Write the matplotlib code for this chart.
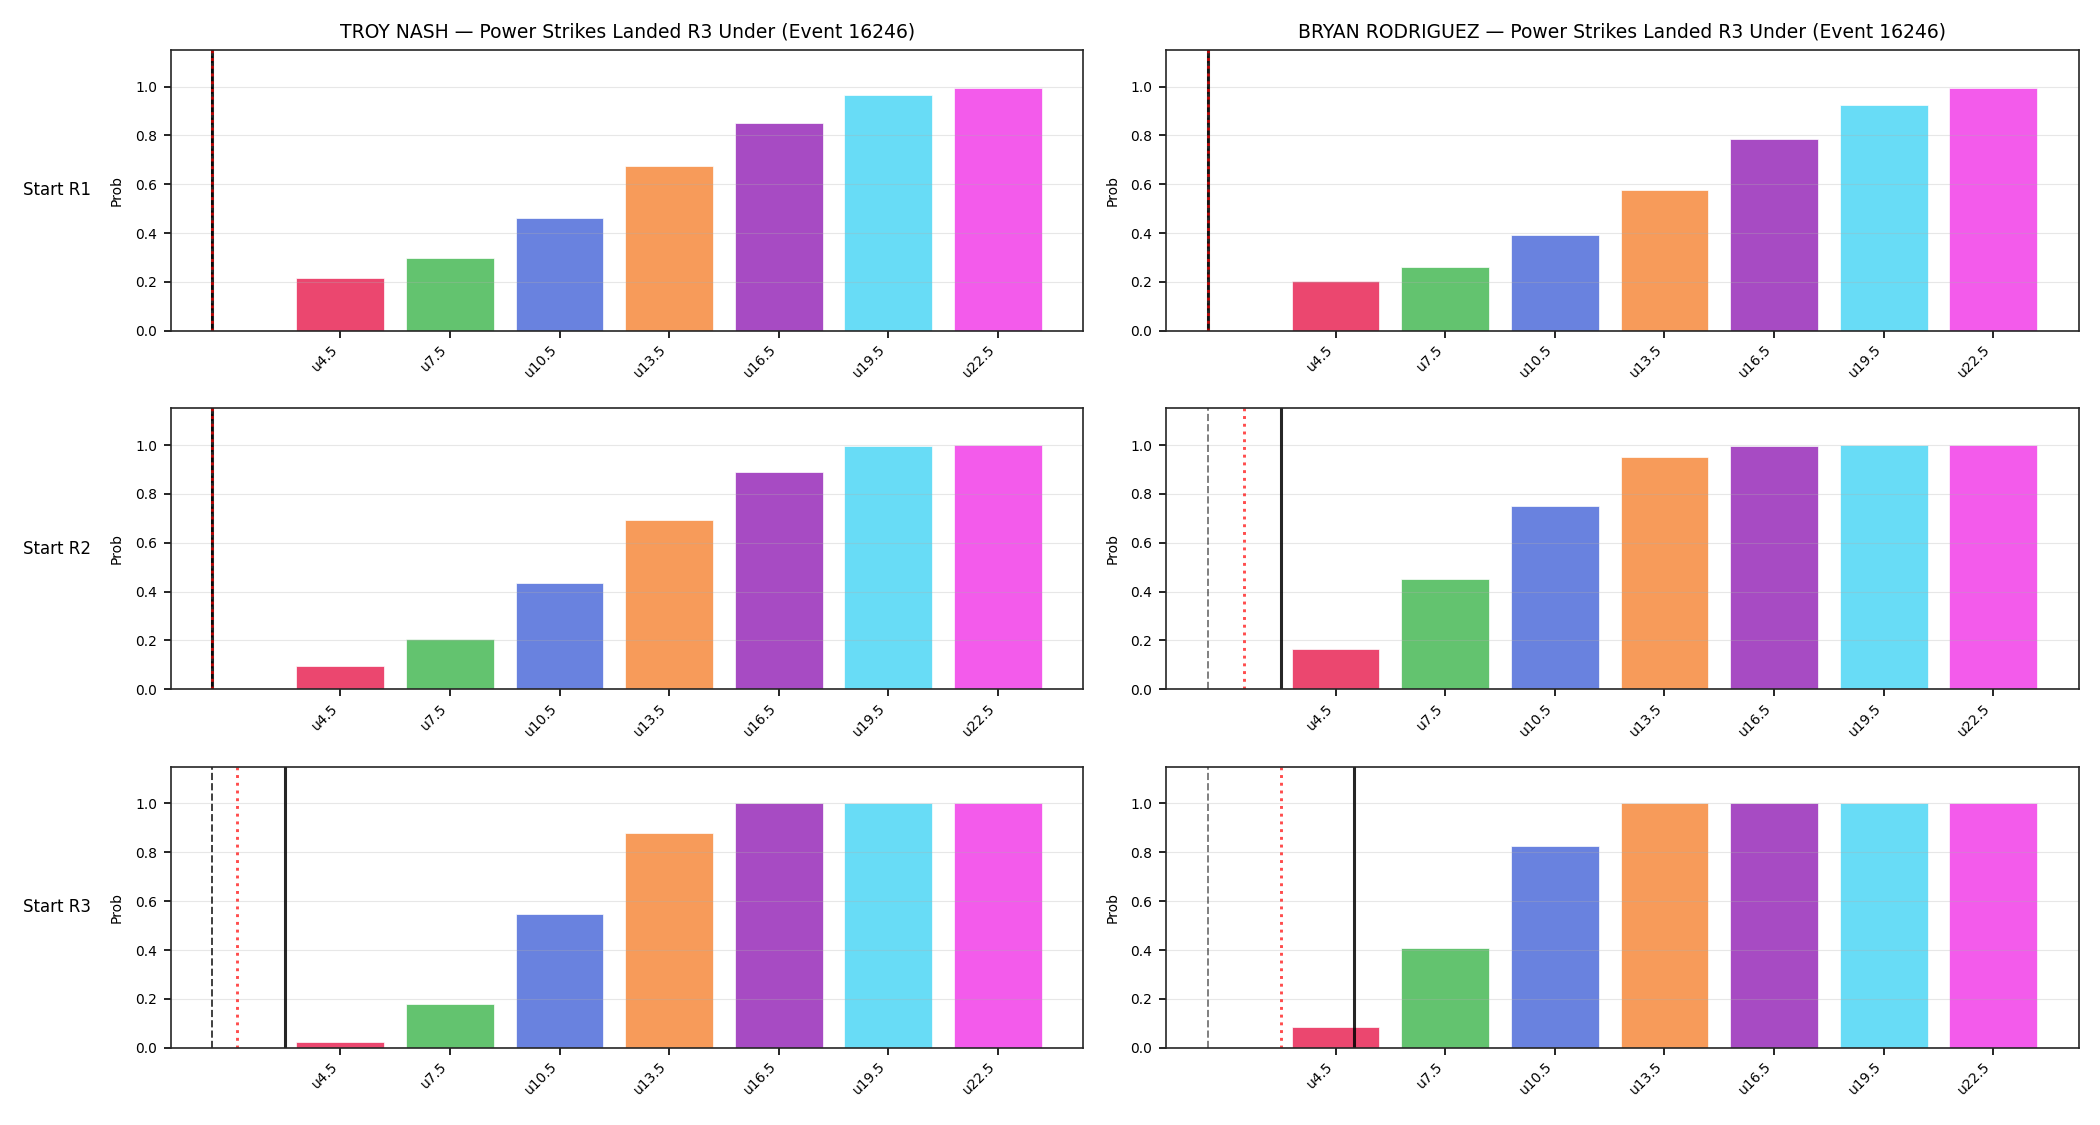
import numpy as np
import matplotlib
matplotlib.use("Agg")
import matplotlib.pyplot as plt

# lineas "under" y etiquetas
thresholds = [4.5, 7.5, 10.5, 13.5, 16.5, 19.5, 22.5]
tick_labels = ["u4.5", "u7.5", "u10.5", "u13.5", "u16.5", "u19.5", "u22.5"]
fighters = ["TROY NASH", "BRYAN RODRIGUEZ"]
row_labels = ["Start R1", "Start R2", "Start R3"]
event_id = 16246

# probabilidades por fila (R1, R2, R3)
troy_probs = [
    [0.217, 0.299, 0.463, 0.676, 0.850, 0.967, 0.996],
    [0.097, 0.204, 0.434, 0.692, 0.890, 0.997, 1.000],
    [0.023, 0.178, 0.546, 0.879, 1.000, 1.000, 1.000],
]
bryan_probs = [
    [0.205, 0.260, 0.393, 0.575, 0.785, 0.923, 0.996],
    [0.163, 0.450, 0.750, 0.953, 0.998, 1.000, 1.000],
    [0.085, 0.410, 0.827, 1.000, 1.000, 1.000, 1.000],
]

# lineas verticales: minimo (discontinua), media (punteada), actual (solida)
troy_min = [1.0, 1.0, 1.0]
troy_mean = [1.0, 1.0, 1.66]
troy_now = [1.0, 1.0, 3.0]
bryan_min = [1.0, 1.0, 1.0]
bryan_mean = [1.0, 2.0, 3.0]
bryan_now = [1.0, 3.0, 5.0]

bar_colors = ["#e6194b", "#3cb44b", "#4363d8", "#f58231",
              "#911eb4", "#42d4f4", "#f032e6"]

probs = [troy_probs, bryan_probs]
mins = [troy_min, bryan_min]
means = [troy_mean, bryan_mean]
nows = [troy_now, bryan_now]
dash_alpha = [0.75, 0.5]

plt.rcParams["axes.edgecolor"] = "#262626"
plt.rcParams["axes.linewidth"] = 1.2
plt.rcParams["xtick.major.width"] = 1.2
plt.rcParams["ytick.major.width"] = 1.2
plt.rcParams["xtick.major.size"] = 5
plt.rcParams["ytick.major.size"] = 5
plt.rcParams["ytick.major.pad"] = 5

fig, axes = plt.subplots(3, 2, figsize=(21, 11.25), dpi=100)
fig.subplots_adjust(left=0.0814, right=0.9898, top=0.9556, bottom=0.0687,
                    wspace=0.091, hspace=0.276)

for c in range(2):
    for r in range(3):
        ax = axes[r, c]
        ax.bar(thresholds, probs[c][r], width=2.4, color=bar_colors,
               alpha=0.8, edgecolor="white", linewidth=0.6)
        ax.axvline(nows[c][r], color="k", alpha=0.85, linewidth=2.2)
        ax.axvline(mins[c][r], color="k", alpha=dash_alpha[c],
                   linestyle="--", linewidth=1.4)
        ax.axvline(means[c][r], color="red", alpha=0.7,
                   linestyle=":", linewidth=2.1)
        ax.set_ylim(0, 1.15)
        ax.set_yticks([0, 0.2, 0.4, 0.6, 0.8, 1.0])
        ax.set_xticks(thresholds)
        ax.set_xticklabels(tick_labels, rotation=45, ha="right")
        ax.set_ylabel("Prob", labelpad=8)
        ax.grid(axis="y", alpha=0.3)
        if r == 0:
            ax.set_title(f"{fighters[c]} \u2014 Power Strikes Landed R3 Under (Event {event_id})",
                         fontsize=13.5, pad=9)
        if c == 0:
            ax.text(-0.088, 0.5, row_labels[r], transform=ax.transAxes,
                    ha="right", va="center", fontsize=12)

plt.savefig("out.png", dpi=100)
